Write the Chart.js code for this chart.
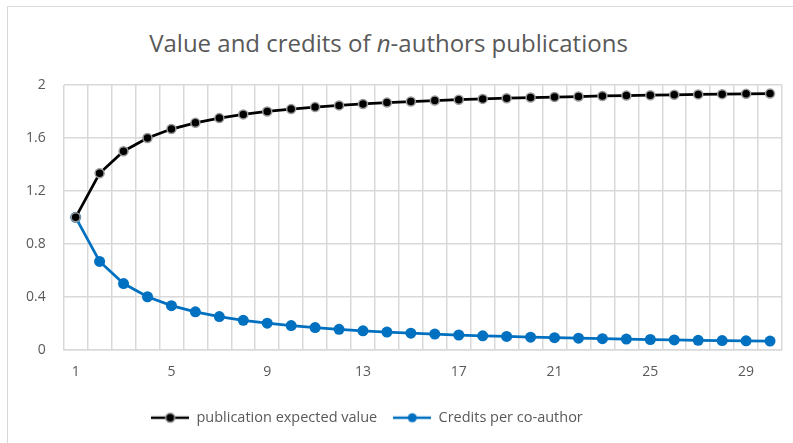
<!DOCTYPE html>
<html>
<head>
<meta charset="utf-8">
<script src="https://cdn.jsdelivr.net/npm/chart.js@4.4.1/dist/chart.umd.min.js"></script>
<style>
  html, body { margin: 0; padding: 0; background: #fff; overflow: hidden; }
  #wrap { position: relative; width: 793px; height: 443px; }
  #frame { position: absolute; left: 7px; top: 6px; width: 820px; height: 470px;
           border-left: 1.5px solid #d9d9d9; border-top: 1.5px solid #d9d9d9; box-sizing: border-box; }
  #title { position: absolute; left: -8px; width: 793px; top: 26px; text-align: center;
           font-family: "Open Sans", sans-serif; font-size: 24px; color: #595959; }
  canvas { position: absolute; left: 0; top: 0; }
</style>
</head>
<body>
<div id="wrap">
  <div id="frame"></div>
  <div id="title">Value and credits of <i>n</i>-authors publications</div>
  <canvas id="chart" width="793" height="443"></canvas>
</div>
<script>
const authors = [1, 2, 3, 4, 5, 6, 7, 8, 9, 10, 11, 12, 13, 14, 15,
                 16, 17, 18, 19, 20, 21, 22, 23, 24, 25, 26, 27, 28, 29, 30];
const expectedValue = [1.0, 1.333, 1.5, 1.6, 1.667, 1.714, 1.75, 1.778, 1.8, 1.818,
                       1.833, 1.846, 1.857, 1.867, 1.875, 1.882, 1.889, 1.895, 1.9, 1.905,
                       1.909, 1.913, 1.917, 1.92, 1.923, 1.926, 1.929, 1.931, 1.933, 1.935];
const creditsPerAuthor = [1.0, 0.667, 0.5, 0.4, 0.333, 0.286, 0.25, 0.222, 0.2, 0.182,
                          0.167, 0.154, 0.143, 0.133, 0.125, 0.118, 0.111, 0.105, 0.1, 0.095,
                          0.091, 0.087, 0.083, 0.08, 0.077, 0.074, 0.071, 0.069, 0.067, 0.065];
const yTicks = ['0', '0.4', '0.8', '1.2', '1.6', '2'];

const BLACK = '#000000';
const BLUE = '#0070c0';
const GRID = '#d9d9d9';
const TEXT = '#595959';

// legend swatch: short line with a dot in the middle
function legendSwatch(color, border) {
  const c = document.createElement('canvas');
  c.width = 38; c.height = 14;
  const ctx = c.getContext('2d');
  ctx.strokeStyle = color;
  ctx.lineWidth = 2.5;
  ctx.beginPath(); ctx.moveTo(0, 7); ctx.lineTo(38, 7); ctx.stroke();
  ctx.beginPath(); ctx.arc(19, 7, 4.5, 0, Math.PI * 2);
  ctx.fillStyle = color; ctx.fill();
  if (border) { ctx.lineWidth = 1.5; ctx.strokeStyle = border; ctx.stroke(); }
  return c;
}

// excel puts the legend a bit left of centre
const legendShift = {
  id: 'legendShift',
  afterUpdate(chart) {
    chart.legend.left -= 28;
    chart.legend.right -= 28;
  },
};

const canvas = document.getElementById('chart');
new Chart(canvas, {
  type: 'line',
  data: {
    labels: authors,
    datasets: [
      {
        label: 'publication expected value',
        data: expectedValue,
        borderColor: BLACK,
        backgroundColor: BLACK,
        borderWidth: 2.75,
        pointRadius: 4.5,
        pointBorderWidth: 1.5,
        pointBorderColor: '#9a9a9a',
        pointBackgroundColor: BLACK,
        tension: 0,
        legendSwatch: legendSwatch(BLACK, '#9a9a9a'),
      },
      {
        label: 'Credits per co-author',
        data: creditsPerAuthor,
        borderColor: BLUE,
        backgroundColor: BLUE,
        borderWidth: 2.75,
        pointRadius: 5.5,
        pointBorderWidth: 0,
        pointBackgroundColor: BLUE,
        tension: 0,
        legendSwatch: legendSwatch(BLUE),
      },
    ],
  },
  plugins: [legendShift],
  options: {
    responsive: false,
    animation: false,
    layout: { padding: { top: 85, left: 8, right: 11, bottom: 8 } },
    scales: {
      x: {
        offset: true,
        grid: { offset: true, color: GRID, lineWidth: 1.5, drawTicks: false },
        border: { color: GRID, width: 1.5 },
        ticks: {
          autoSkip: false,
          maxRotation: 0,
          padding: 14,
          color: TEXT,
          font: { family: 'Open Sans', size: 14 },
          callback: (v, i) => (i % 4 === 0 ? authors[i] : ''),
        },
      },
      y: {
        min: 0,
        max: 2,
        grid: { color: GRID, lineWidth: 1.5, drawTicks: false },
        border: { display: false },
        ticks: {
          stepSize: 0.4,
          padding: 18,
          color: TEXT,
          font: { family: 'Open Sans', size: 14 },
          callback: (v) => yTicks[Math.round(v / 0.4)],
        },
      },
    },
    plugins: {
      legend: {
        position: 'bottom',
        labels: {
          color: TEXT,
          font: { family: 'Open Sans', size: 14.5 },
          usePointStyle: true,
          pointStyleWidth: 38,
          padding: 16,
          generateLabels: (chart) => chart.data.datasets.map((ds, i) => ({
            text: ds.label,
            fontColor: TEXT,
            pointStyle: ds.legendSwatch,
            strokeStyle: ds.borderColor,
            fillStyle: ds.backgroundColor,
            lineWidth: 0,
            hidden: false,
            datasetIndex: i,
          })),
        },
      },
      title: { display: false },
      tooltip: { enabled: false },
    },
  },
});
</script>
</body>
</html>
